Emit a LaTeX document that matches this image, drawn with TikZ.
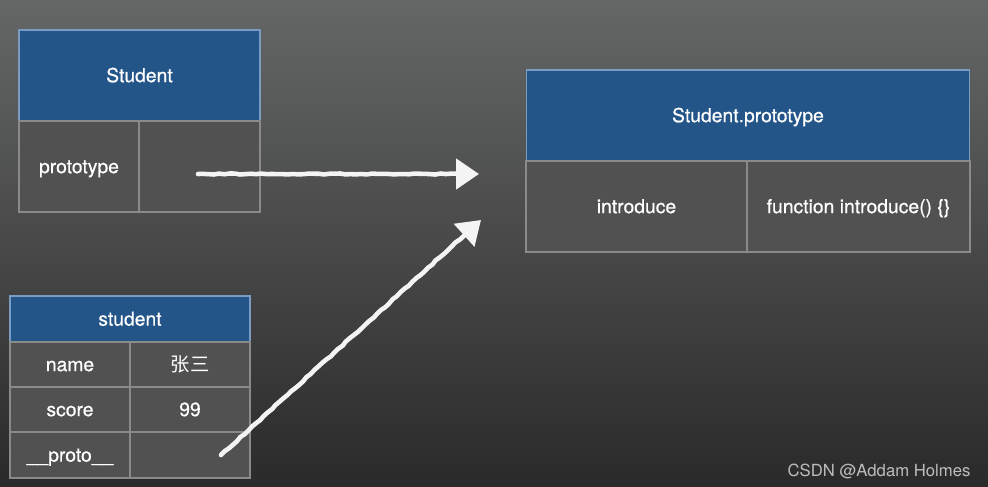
\documentclass[tikz,border=0pt]{standalone}
\usepackage{fontspec}
\usetikzlibrary{arrows.meta,positioning,decorations.pathmorphing}
\newfontfamily\heros[FakeBold=0.6]{TeX Gyre Heros}
\newfontfamily\plainheros{TeX Gyre Heros}
\newfontfamily\cjk{Noto Sans CJK SC}
\definecolor{bgtop}{HTML}{656766}
\definecolor{bgbot}{HTML}{2A2A2A}
\definecolor{hdblue}{HTML}{235589}
\definecolor{hdline}{HTML}{7A9CC2}
\definecolor{cellgray}{HTML}{515151}
\definecolor{cellline}{HTML}{8A8A8A}
\definecolor{chalk}{HTML}{F4F4F4}
\definecolor{mark}{HTML}{BDBDBD}

\begin{document}
\begin{tikzpicture}[x=0.02cm,y=-0.02cm,
  every node/.style={inner sep=0pt,outer sep=0pt,text=white,
    text height=7.6pt,text depth=0pt,
    font=\heros\fontsize{11}{13}\selectfont},
  head/.style={draw=hdline,fill=hdblue,line width=0.6pt},
  cell/.style={draw=cellline,fill=cellgray,line width=0.6pt},
  chalkarrow/.style={chalk,line width=2.6pt,line cap=round,
    -{Triangle[length=13pt,width=17pt]}}]
  % background
  \shade[top color=bgtop,bottom color=bgbot] (0,0) rectangle (988,487);
  \useasboundingbox (0,0) rectangle (988,487);
  % Student
  \node[head,minimum width=4.82cm,minimum height=1.82cm] (clsHead) at (139.5,75.5) {Student};
  \node[cell,minimum width=2.4cm,minimum height=1.82cm] (clsKey) at (79,166.5) {prototype};
  \node[cell,minimum width=2.42cm,minimum height=1.82cm] (clsVal) at (199.5,166.5) {};
  % Student.prototype
  \node[head,minimum width=8.88cm,minimum height=1.82cm] (protoHead) at (748,115.5) {Student.prototype};
  \node[cell,minimum width=4.42cm,minimum height=1.82cm] (protoKey) at (636.5,206.5) {introduce};
  \node[cell,minimum width=4.46cm,minimum height=1.82cm] (protoVal) at (858.5,206.5) {function introduce() \{\}};
  % student
  \node[head,minimum width=4.8cm,minimum height=0.92cm] (objHead) at (130,319) {student};
  \node[cell,minimum width=2.4cm,minimum height=0.9cm] (nameKey) at (70,364.5) {name};
  \node[cell,minimum width=2.4cm,minimum height=0.9cm] (nameVal) at (190,364.5) {\cjk 张三};
  \node[cell,minimum width=2.4cm,minimum height=0.9cm] (scoreKey) at (70,409.5) {score};
  \node[cell,minimum width=2.4cm,minimum height=0.9cm] (scoreVal) at (190,409.5) {99};
  \node[cell,minimum width=2.4cm,minimum height=0.92cm] (protoLinkKey) at (70,455) {\_\_proto\_\_};
  \node[cell,minimum width=2.4cm,minimum height=0.92cm] (protoLinkVal) at (190,455) {};
  % arrows
  \coordinate (clsFrom) at (198,174);
  \coordinate (clsTo) at (479,174);
  \coordinate (objFrom) at (221,455);
  \coordinate (objTo) at (481,220);
  \draw[chalkarrow,decorate,decoration={random steps,segment length=3pt,amplitude=0.3pt,post length=10pt}] (clsFrom) -- (clsTo);
  \draw[chalkarrow,decorate,decoration={random steps,segment length=3pt,amplitude=0.3pt,post length=10pt}] (objFrom) -- (objTo);
  \node[text=mark,font=\plainheros\fontsize{9.5}{11}\selectfont] (credit) at (879,470) {CSDN @Addam Holmes};
\end{tikzpicture}
\end{document}
